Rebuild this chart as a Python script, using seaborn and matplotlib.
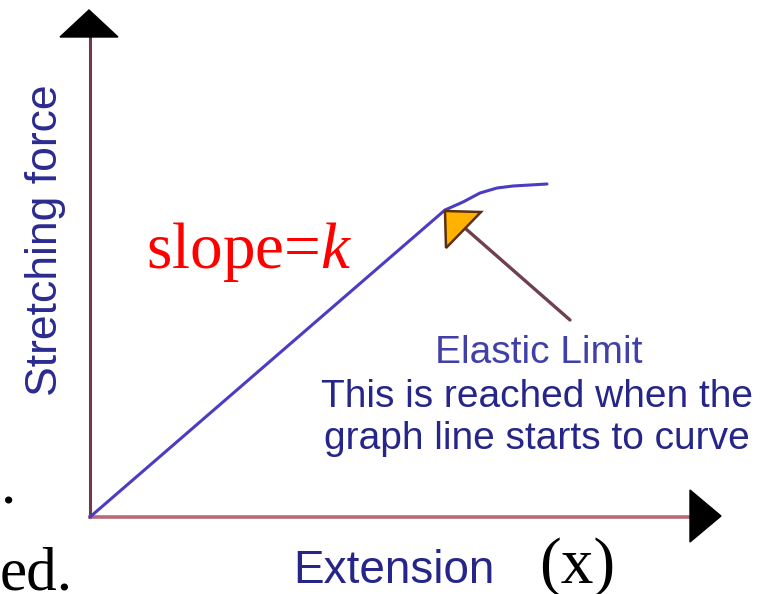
import matplotlib
matplotlib.use('Agg')
import matplotlib.pyplot as plt
from matplotlib.patches import Polygon
import seaborn as sns

# Stretching force vs extension (arbitrary units, origin at the axes corner)
extension = [0, 35.5, 37.3, 39.0, 40.7, 42.3, 45.7]
force = [0, 30.7, 31.5, 32.4, 32.9, 33.1, 33.3]

x_label = 'Extension'
y_label = 'Stretching force'
note_title = 'Elastic Limit'
note_lines = ['This is reached when the', 'graph line starts to curve']

sns.set_style('white')
plt.rcParams['mathtext.fontset'] = 'custom'
plt.rcParams['mathtext.rm'] = 'Liberation Serif'
plt.rcParams['mathtext.it'] = 'Liberation Serif:italic'

W, H = 763, 594
fig = plt.figure(figsize=(W / 100, H / 100), dpi=100)
ax = fig.add_axes([0, 0, 1, 1])


def px(x, y):
    # pixel position in the picture -> data units
    return (x - 90) / 10, (517 - y) / 10


ax.set_xlim(px(0, 0)[0], px(W, 0)[0])
ax.set_ylim(px(0, H)[1], px(0, 0)[1])

# axes drawn as spines through the origin, with black arrow heads
for side in ['top', 'right']:
    ax.spines[side].set_visible(False)
ax.spines['left'].set_position(('data', 0))
ax.spines['bottom'].set_position(('data', 0))
ax.spines['left'].set_bounds(0, px(0, 37)[1])
ax.spines['bottom'].set_bounds(0, px(690, 0)[0])
ax.spines['left'].set_color('#6e3a4c')
ax.spines['bottom'].set_color('#b86878')
ax.spines['left'].set_linewidth(2.2)
ax.spines['bottom'].set_linewidth(2.6)
ax.set_xticks([])
ax.set_yticks([])

ax.add_patch(Polygon([px(89, 10), px(60, 37), px(118, 37)], closed=True,
                     color='black', zorder=5))
ax.add_patch(Polygon([px(721, 516), px(690, 490), px(690, 542)], closed=True,
                     color='black', zorder=5))

# the force-extension line
sns.lineplot(x=extension, y=force, ax=ax, sort=False, estimator=None,
             color='#4b3cc4', linewidth=2.2, zorder=4)

# arrow pointing at the elastic limit
ax.plot(*zip(px(466, 229), px(570, 320)), color='#6e4050', linewidth=2.4, zorder=3)
ax.add_patch(Polygon([px(445, 211), px(481, 212), px(446, 248)], closed=True,
                     facecolor='#ffb300', edgecolor='#5a3010', linewidth=1.8, zorder=5))

# texts
ax.text(*px(146, 268), 'slope=$k$', color='red', fontsize=47,
        family='Liberation Serif', ha='left', va='baseline')

ax.text(*px(45, 240), y_label, color='#2b2b90', fontsize=32,
        family='Liberation Sans', rotation=90, ha='center', va='center')

ax.text(*px(539, 363), note_title, color='#4040a8', fontsize=28,
        family='Liberation Sans', ha='center', va='baseline')
ax.text(*px(537, 407), note_lines[0], color='#25258a', fontsize=28,
        family='Liberation Sans', ha='center', va='baseline')
ax.text(*px(537, 449), note_lines[1], color='#25258a', fontsize=28,
        family='Liberation Sans', ha='center', va='baseline')

ax.text(*px(293, 583), x_label, color='#25258a', fontsize=33,
        family='Liberation Sans', ha='left', va='baseline')
ax.text(*px(539, 583), '(x)', color='black', fontsize=47,
        family='Liberation Serif', ha='left', va='baseline')

# fragments of surrounding page text
ax.text(*px(1, 504), '.', color='black', fontsize=44,
        family='Liberation Serif', ha='left', va='baseline')
ax.text(*px(0, 590), 'ed.', color='black', fontsize=44,
        family='Liberation Serif', ha='left', va='baseline')

fig.savefig('out.png', dpi=100)
